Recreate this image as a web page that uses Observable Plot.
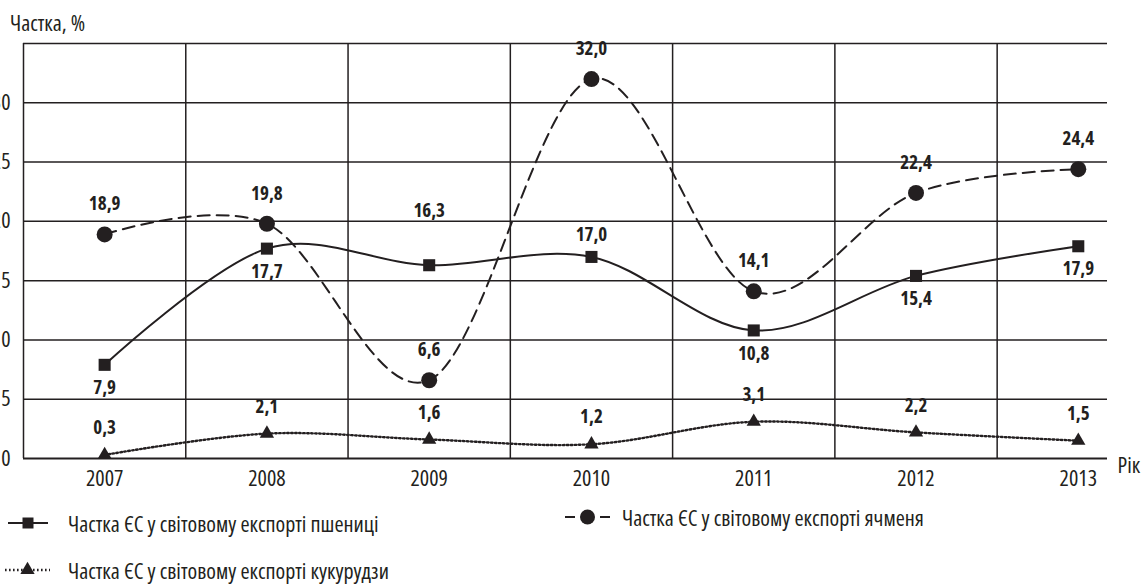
<!DOCTYPE html>
<html>
<head>
<meta charset="utf-8">
<script src="https://cdn.jsdelivr.net/npm/d3@7"></script>
<script src="https://cdn.jsdelivr.net/npm/@observablehq/plot@0.6"></script>
<style>
  html, body { margin: 0; padding: 0; background: #fff; }
  body { width: 1148px; height: 586px; overflow: hidden; font-family: "Open Sans", sans-serif; font-stretch: condensed; color: #231f20; }
  #title { height: 35px; font-size: 22px; line-height: 24px; padding-left: 10px; box-sizing: border-box; padding-top: 10px; white-space: nowrap; }
  #legend { position: relative; height: 81px; font-size: 22px; }
  .item { position: absolute; height: 24px; }
  .item svg { position: absolute; top: 0; display: block; }
  .item span { position: absolute; top: 0; line-height: 24px; white-space: nowrap; }
</style>
</head>
<body>
<div id="title"></div>
<div id="chart"></div>
<div id="legend"></div>
<script>
const years = [2007, 2008, 2009, 2010, 2011, 2012, 2013];
const wheat = [7.9, 17.7, 16.3, 17.0, 10.8, 15.4, 17.9];
const barley = [18.9, 19.8, 6.6, 32.0, 14.1, 22.4, 24.4];
const corn = [0.3, 2.1, 1.6, 1.2, 3.1, 2.2, 1.5];
const yTicks = [0, 5, 10, 15, 20, 25, 30];
const yGrid = [0, 5, 10, 15, 20, 25, 30, 35];
const seriesNames = [
  "Частка ЄС у світовому експорті пшениці",
  "Частка ЄС у світовому експорті ячменя",
  "Частка ЄС у світовому експорті кукурудзи"
];
const yLabel = "Частка, %";
const xLabel = "Рік";

const ink = "#231f20";
const fmt = v => v.toFixed(1).replace(".", ",");
const rows = arr => years.map((year, i) => ({year, v: arr[i], label: fmt(arr[i])}));
const wheatData = rows(wheat);
const barleyData = rows(barley);
const cornData = rows(corn);
const bounds = years.map(y => y - 0.5);
const lbl = {fontWeight: "bold", fontSize: 19, fill: ink};
const dotted = "1.6,2.4";

const chart = Plot.plot({
  width: 1148,
  height: 470,
  marginLeft: 23,
  marginRight: 41,
  marginTop: 8,
  marginBottom: 47,
  style: {fontFamily: "Open Sans, sans-serif", fontStretch: "condensed", fontSize: "22px", color: ink, background: "#fff"},
  x: {type: "linear", domain: [2006.5, 2013.18], ticks: years, tickFormat: d => String(d), tickSize: 0, tickPadding: 12, label: null},
  y: {domain: [0, 35], ticks: yTicks, tickSize: 0, tickPadding: 13, label: null},
  marks: [
    Plot.ruleY(yGrid.filter(d => d > 0), {stroke: ink, strokeWidth: 1.5}),
    Plot.ruleX(bounds, {stroke: ink, strokeWidth: 1.5}),
    Plot.ruleY([0], {stroke: ink, strokeWidth: 2.2}),
    Plot.line(wheatData, {x: "year", y: "v", curve: "cardinal", stroke: ink, strokeWidth: 2}),
    Plot.line(barleyData, {x: "year", y: "v", curve: "cardinal", stroke: ink, strokeWidth: 2, strokeDasharray: "12,7"}),
    Plot.line(cornData, {x: "year", y: "v", curve: "cardinal", stroke: ink, strokeWidth: 2.4, strokeDasharray: dotted}),
    Plot.dot(wheatData, {x: "year", y: "v", symbol: "square", r: 6.8, fill: ink}),
    Plot.dot(barleyData, {x: "year", y: "v", symbol: "circle", r: 8, fill: ink}),
    Plot.dot(cornData, {x: "year", y: "v", symbol: "triangle", r: 5.3, fill: ink}),
    // wheat labels
    Plot.text(wheatData.filter(d => d.year !== 2009 && d.year !== 2010), {x: "year", y: "v", text: "label", dy: 23, ...lbl}),
    Plot.text(wheatData.filter(d => d.year === 2010), {x: "year", y: "v", text: "label", dy: -22, ...lbl}),
    Plot.text(wheatData.filter(d => d.year === 2009), {x: "year", y: "v", text: "label", dy: -54, ...lbl}),
    // barley labels
    Plot.text(barleyData, {x: "year", y: "v", text: "label", dy: -30, ...lbl}),
    // corn labels
    Plot.text(cornData, {x: "year", y: "v", text: "label", dy: -27, ...lbl}),
    // x axis label
    Plot.text([xLabel], {frameAnchor: "bottom-right", dx: 10, dy: 14, textAnchor: "start", fontSize: 22, fill: ink})
  ]
});
document.getElementById("chart").appendChild(chart);
document.getElementById("title").textContent = yLabel;

// legend (container top is at y = 505)
const legend = document.getElementById("legend");
const items = [
  {name: seriesNames[0], sym: "square", x: 8, w: 40, cy: 18, tx: 68},
  {name: seriesNames[1], sym: "circle", x: 565, w: 45, cy: 12, tx: 622},
  {name: seriesNames[2], sym: "triangle", x: 5, w: 45, cy: 65, tx: 68}
];
const symPath = {
  square: d3.symbol(d3.symbolSquare, 11 * 11),
  circle: d3.symbol(d3.symbolCircle, Math.PI * 7.5 * 7.5),
  triangle: d3.symbol(d3.symbolTriangle, Math.PI * 5.3 * 5.3)
};
items.forEach(it => {
  const div = document.createElement("div");
  div.className = "item";
  div.style.left = "0px";
  div.style.top = (it.cy - 12) + "px";
  const svg = d3.create("svg").attr("width", it.w).attr("height", 24).style("left", it.x + "px");
  if (it.sym === "circle") {
    svg.append("line").attr("x1", 0).attr("x2", 10).attr("y1", 12).attr("y2", 12).attr("stroke", ink).attr("stroke-width", 2);
    svg.append("line").attr("x1", it.w - 10).attr("x2", it.w).attr("y1", 12).attr("y2", 12).attr("stroke", ink).attr("stroke-width", 2);
  } else {
    svg.append("line").attr("x1", 0).attr("x2", it.w).attr("y1", 12).attr("y2", 12)
      .attr("stroke", ink).attr("stroke-width", it.sym === "triangle" ? 2.4 : 2)
      .attr("stroke-dasharray", it.sym === "triangle" ? dotted : null);
  }
  svg.append("path").attr("d", symPath[it.sym]()).attr("transform", `translate(${it.w / 2},12)`).attr("fill", ink);
  div.appendChild(svg.node());
  const span = document.createElement("span");
  span.textContent = it.name;
  span.style.left = it.tx + "px";
  div.appendChild(span);
  legend.appendChild(div);
});
</script>
</body>
</html>
